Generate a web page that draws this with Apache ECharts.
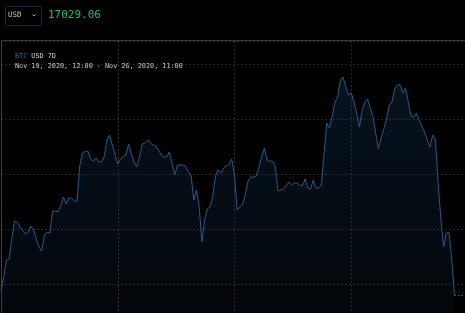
<!DOCTYPE html>
<html>
<head>
<meta charset="utf-8">
<script src="https://cdn.jsdelivr.net/npm/echarts@6/dist/echarts.min.js"></script>
<style>
  html, body { margin: 0; padding: 0; background: #000; }
  #chart { width: 465px; height: 313px; }
</style>
</head>
<body>
<div id="chart"></div>
<script>
// BTC/USD, hourly, Nov 19 2020 12:00 -> Nov 26 2020 11:00 (168 points)
const prices = [
  17088, 17244, 17448, 17460, 17712, 17916, 17904, 17844, 17796, 17760,
  17784, 17856, 17808, 17700, 17604, 17556, 17748, 17784, 17772, 18036,
  18036, 18024, 18096, 18204, 18120, 18192, 18192, 18156, 18156, 18576,
  18732, 18750, 18756, 18660, 18636, 18672, 18624, 18624, 18684, 18888,
  18948, 18828, 18720, 18600, 18660, 18684, 18708, 18840, 18720, 18624,
  18564, 18684, 18840, 18852, 18888, 18852, 18828, 18816, 18768, 18708,
  18684, 18684, 18744, 18612, 18468, 18588, 18588, 18588, 18576, 18504,
  18468, 18168, 18288, 18084, 17664, 17928, 18060, 18084, 18216, 18456,
  18528, 18492, 18552, 18576, 18600, 18660, 18468, 18048, 18084, 18120,
  18240, 18396, 18444, 18444, 18456, 18564, 18684, 18792, 18648, 18636,
  18636, 18576, 18276, 18288, 18300, 18336, 18384, 18348, 18372, 18372,
  18348, 18336, 18420, 18312, 18300, 18408, 18312, 18312, 18348, 18732,
  19092, 19032, 19176, 19344, 19404, 19608, 19644, 19524, 19428, 19452,
  19344, 19212, 19044, 19248, 19344, 19380, 19272, 19164, 18972, 18780,
  18912, 19020, 19140, 19308, 19344, 19500, 19548, 19548, 19452, 19512,
  19344, 19176, 19164, 19212, 19128, 19056, 18984, 18888, 18804, 18948,
  18900, 18360, 17948, 17604, 17772, 17784, 17460, 17029.06
];
const axisSlots = 173; // axis runs a few hours past the last price
const yTicks = { min: 16500, max: 20076, step: 660 };
const titleText = ['BTC', 'USD 7D'];
const rangeText = 'Nov 19, 2020, 12:00 - Nov 26, 2020, 11:00';
const currency = 'USD';

const hours = [];
for (let i = 0; i < axisSlots; i++) {
    const d = new Date(Date.UTC(2020, 10, 19, 12 + i));
    hours.push(d.toISOString().slice(0, 13).replace('T', ' ') + ':00');
}

const last = prices[prices.length - 1];
const mono = '"DejaVu Sans Mono", monospace';
const grid = 'rgba(90,90,90,0.55)';

const chart = echarts.init(document.getElementById('chart'));

const option = {
    backgroundColor: '#000',
    animation: false,
    grid: { left: 1, top: 41, width: 467, height: 298, outerBoundsMode: 'none' },
    xAxis: {
        type: 'category',
        boundaryGap: false,
        data: hours,
        axisLine: { show: false },
        axisTick: { show: false },
        axisLabel: { show: false },
        splitLine: {
            show: true,
            interval: 42,
            lineStyle: { color: grid, width: 1, type: [1.5, 2.5] }
        }
    },
    yAxis: {
        type: 'value',
        min: yTicks.min,
        max: yTicks.max,
        interval: yTicks.step,
        axisLine: { show: false },
        axisTick: { show: false },
        axisLabel: { show: false },
        splitLine: {
            show: true,
            lineStyle: { color: grid, width: 1, type: [1.5, 2.5] }
        }
    },
    series: [
        {
            type: 'line',
            data: prices,
            showSymbol: false,
            lineStyle: { width: 1, color: '#245a8c' },
            areaStyle: {
                color: new echarts.graphic.LinearGradient(0, 0, 0, 1, [
                    { offset: 0, color: 'rgba(24,64,105,0.42)' },
                    { offset: 1, color: 'rgba(24,64,105,0.12)' }
                ])
            },
            markLine: {
                silent: true,
                symbol: 'none',
                label: { show: false },
                lineStyle: { color: '#4b6682', width: 1, type: [1.5, 2] },
                data: [[
                    { coord: [hours[prices.length - 1], last] },
                    { coord: [hours[axisSlots - 1], last] }
                ]]
            }
        }
    ],
    graphic: [
        {
            type: 'polyline',
            silent: true,
            shape: { points: [[1.5, 313], [1.5, 40.5], [465, 40.5]] },
            style: { stroke: '#3a3a3a', lineWidth: 1, fill: null }
        },
        {
            type: 'rect',
            shape: { x: 5.5, y: 6.5, width: 36, height: 19, r: 1 },
            style: { fill: '#000', stroke: '#1e2848', lineWidth: 1 }
        },
        {
            type: 'text',
            x: 8, y: 15.5,
            style: {
                text: currency,
                font: '7.4px ' + mono,
                fill: '#c8c8c8',
                verticalAlign: 'middle'
            }
        },
        {
            type: 'polyline',
            shape: { points: [[32.5, 14.5], [34, 16], [35.5, 14.5]] },
            style: { stroke: '#a0a0a0', lineWidth: 1, fill: null }
        },
        {
            type: 'text',
            x: 48, y: 15.5,
            style: {
                text: last.toFixed(2),
                font: '11px ' + mono,
                fill: '#20c05a',
                verticalAlign: 'middle'
            }
        },
        {
            type: 'text',
            x: 15, y: 56.5,
            style: {
                text: '{b|' + titleText[0] + '} ' + titleText[1],
                font: '6.8px ' + mono,
                fill: '#cfcfcf',
                verticalAlign: 'middle',
                rich: { b: { fill: '#2f6a9e', font: '6.8px ' + mono } }
            }
        },
        {
            type: 'text',
            x: 15, y: 66.7,
            style: {
                text: rangeText,
                font: '6.8px ' + mono,
                fill: '#cfcfcf',
                verticalAlign: 'middle'
            }
        }
    ]
};

chart.setOption(option);
window.addEventListener('resize', () => chart.resize());
</script>
</body>
</html>
